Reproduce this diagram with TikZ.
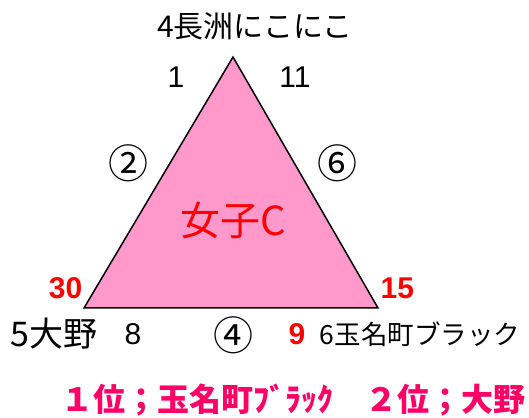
\documentclass[tikz,border=0pt]{standalone}
\usepackage{fontspec}
\setmainfont{Liberation Sans}
\newfontfamily\jp{Noto Sans CJK JP}
\usetikzlibrary{positioning}
\definecolor{courtpink}{RGB}{255,153,204}
\definecolor{rankred}{RGB}{255,0,102}
\tikzstyle{court} = [draw=black, line width=1.5pt, fill=courtpink, line join=miter]
\tikzstyle{team} = [inner sep=0pt, font=\jp\fontsize{30}{32}\selectfont]
\tikzstyle{score} = [inner sep=0pt, font=\fontsize{30}{32}\selectfont]
\tikzstyle{pts} = [inner sep=0pt, text=red, font=\bfseries\fontsize{30}{32}\selectfont]
\tikzstyle{match} = [inner sep=0pt, font=\jp\fontsize{40}{42}\selectfont]
\tikzstyle{group} = [inner sep=0pt, text=red, font=\jp\fontsize{40}{42}\selectfont]
\tikzstyle{rank} = [inner sep=0pt, text=rankred, font=\jp\bfseries\fontsize{32}{34}\selectfont]

\begin{document}
\begin{tikzpicture}[x=1pt, y=1pt, node distance=26pt]
\useasboundingbox (0,0) rectangle (529,417);

% Triangle corners
\coordinate (top) at (233,360);
\coordinate (left) at (84,109);
\coordinate (right) at (378,109);

% Court
\draw [court] (top) -- (left) -- (right) -- cycle;
\node (groupC) [group] at (233,197) {女子C};

% Top team
\node (teamTop) [team, above of=top, xshift=22pt, yshift=5pt] {4長洲にこにこ};
\node (scoreTopL) [score, left of=top, xshift=-31pt, yshift=-20pt] {1};
\node (scoreTopR) [score, right of=top, xshift=36pt, yshift=-20pt] {11};

% Side matches
\node (matchLeft) [match] at (128,254) {②};
\node (matchRight) [match] at (337,254) {⑥};

% Bottom left team
\node (ptsLeft) [pts, above left of=left, xshift=0pt, yshift=1pt] {30};
\node (teamLeft) [team, below of=left, xshift=-30pt, font=\jp\fontsize{34}{36}\selectfont] {5大野};
\node (scoreLeft) [score, below of=left, xshift=49pt] {8};

% Bottom match
\node (matchBottom) [match] at (233,82) {④};

% Bottom right team
\node (ptsRight) [pts, above right of=right, xshift=1pt, yshift=1pt] {15};
\node (ptsRightB) [pts, below of=right, xshift=-81pt] {9};
\node (teamRight) [team, below of=right, xshift=42pt, font=\jp\fontsize{26.5}{28}\selectfont] {6玉名町ブラック};

% Ranking
\node (ranking) [rank] at (293,17) {１位；玉名町ﾌﾞﾗｯｸ　２位；大野};

\end{tikzpicture}
\end{document}
